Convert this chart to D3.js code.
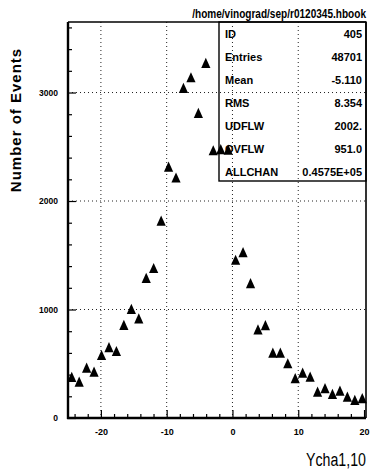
<!DOCTYPE html>
<html><head><meta charset="utf-8">
<script src="https://cdn.jsdelivr.net/npm/d3@7"></script>
<style>body{margin:0;background:#fff} svg{display:block}</style>
</head><body>
<svg id="c" width="377" height="470"></svg>
<script>
// Bin centres (40 bins) and event counts
const binCenters = [-24.43,-23.30,-22.17,-21.04,-19.90,-18.77,-17.64,-16.51,-15.37,-14.24,
  -13.11,-11.98,-10.84,-9.71,-8.58,-7.45,-6.31,-5.18,-4.05,-2.92,
  -1.78,-0.65,0.48,1.61,2.75,3.88,5.01,6.14,7.28,8.41,
  9.54,10.67,11.81,12.94,14.07,15.20,16.34,17.47,18.60,19.73];
const counts = [376,333,461,425,578,651,615,856,1003,915,
  1288,1380,1817,2315,2214,3040,3138,2810,3270,2465,
  2475,2470,1456,1526,1241,814,853,599,599,502,
  364,416,379,241,272,220,250,195,165,181];
const xTickValues = [-20,-10,0,10,20];
const xTickLabels = ["-20","-10","0","10","20"];
const yTickValues = [0,1000,2000,3000];
const yTickLabels = ["0","1000","2000","3000"];
const statLabels = ["ID","Entries","Mean","RMS","UDFLW","OVFLW","ALLCHAN"];
const statValues = ["405","48701","-5.110","8.354","2002.","951.0","0.4575E+05"];
const fileTitle = "/home/vinograd/sep/r0120345.hbook";
const xTitle = "Ycha1,10";
const yTitle = "Number of Events";

const svg = d3.select("#c");
const L = 68, R = 366, T = 22, B = 418;
const x = d3.scaleLinear().domain([-25, 20.3]).range([L, R]);
const y = d3.scaleLinear().domain([0, 3650]).range([B, T]);
const narrow = "'Liberation Sans Narrow','Arial Narrow','Liberation Sans',sans-serif";

// grid
const grid = svg.append("g").attr("stroke", "#222").attr("stroke-width", 1).attr("stroke-dasharray", "1,3");
grid.selectAll("line.v").data(xTickValues.filter(v => v < 20)).join("line")
  .attr("x1", d => x(d)).attr("x2", d => x(d)).attr("y1", T).attr("y2", B);
grid.selectAll("line.h").data(yTickValues.filter(v => v > 0)).join("line")
  .attr("x1", L).attr("x2", R).attr("y1", d => y(d)).attr("y2", d => y(d));

// axes
const xMinor = d3.range(-24, 20.01, 2).filter(v => v % 10 !== 0);
const yMinor = d3.range(200, 3650, 200).filter(v => v % 1000 !== 0);

const gx = svg.append("g").attr("transform", `translate(0,${B})`)
  .call(d3.axisBottom(x).tickValues(xTickValues).tickFormat((d, i) => xTickLabels[i])
    .tickSizeInner(-8).tickSizeOuter(0).tickPadding(11));
gx.select(".domain").remove();
gx.selectAll("text").attr("font-family", narrow).attr("font-weight", "bold").attr("font-size", 9);
const gxm = svg.append("g").attr("transform", `translate(0,${B})`)
  .call(d3.axisBottom(x).tickValues(xMinor).tickFormat("").tickSizeInner(-4).tickSizeOuter(0));
gxm.select(".domain").remove();

const gy = svg.append("g").attr("transform", `translate(${L},0)`)
  .call(d3.axisLeft(y).tickValues(yTickValues).tickFormat((d, i) => yTickLabels[i])
    .tickSizeInner(-8).tickSizeOuter(0).tickPadding(10));
gy.select(".domain").remove();
gy.selectAll("text").attr("font-family", narrow).attr("font-weight", "bold").attr("font-size", 8.5);
const gym = svg.append("g").attr("transform", `translate(${L},0)`)
  .call(d3.axisLeft(y).tickValues(yMinor).tickFormat("").tickSizeInner(-4).tickSizeOuter(0));
gym.select(".domain").remove();
svg.selectAll(".tick line").attr("stroke", "#000").attr("stroke-width", 1.2);

// frame
svg.append("line").attr("x1", L).attr("x2", R).attr("y1", T).attr("y2", T).attr("stroke", "#000").attr("stroke-width", 1.6);
svg.append("line").attr("x1", R).attr("x2", R).attr("y1", T).attr("y2", B).attr("stroke", "#000").attr("stroke-width", 1.6);
svg.append("line").attr("x1", L).attr("x2", L).attr("y1", T).attr("y2", B + 1).attr("stroke", "#000").attr("stroke-width", 2.4);
svg.append("line").attr("x1", L - 1).attr("x2", R).attr("y1", B).attr("y2", B).attr("stroke", "#000").attr("stroke-width", 2.4);

// stats box
const bx = 219, bw = R - 219, by = T, bh = 159;
svg.append("rect").attr("x", bx).attr("y", by).attr("width", bw).attr("height", bh)
  .attr("fill", "none").attr("stroke", "#000").attr("stroke-width", 1.4);
const rowY = i => 33 + i * 23;
const st = svg.append("g").attr("font-family", narrow).attr("font-weight", "bold").attr("font-size", 11).attr("fill", "#000");
st.selectAll("text.l").data(statLabels).join("text")
  .attr("x", bx + 6).attr("y", (d, i) => rowY(i) + 4.5).text(d => d);
st.selectAll("text.v").data(statValues).join("text")
  .attr("x", R - 4).attr("y", (d, i) => rowY(i) + 4.5).attr("text-anchor", "end").text(d => d);

// condensed text helper: scale horizontally to a target width
function condensed(tx, ty, str, size, weight, target) {
  const g = svg.append("g").attr("transform", `translate(${tx},${ty})`);
  const t = g.append("text").attr("text-anchor", "end")
    .attr("font-family", narrow).attr("font-size", size).attr("font-weight", weight).text(str);
  const w = t.node().getComputedTextLength();
  const k = Math.min(1, target / w);
  t.attr("transform", `scale(${k},1)`);
  return t;
}
condensed(R, 18, fileTitle, 12, "bold", 174);
condensed(R, 466, xTitle, 19, "normal", 60);

svg.append("text").attr("transform", `translate(21,120) rotate(-90)`).attr("text-anchor", "middle")
  .attr("font-family", "'Liberation Sans',Arial,sans-serif").attr("font-weight", "bold").attr("font-size", 15)
  .attr("letter-spacing", 1).text(yTitle);

// markers
const tri = "M0,-5.4L4.6,4.8L-4.6,4.8Z";
svg.append("g").selectAll("path").data(binCenters).join("path")
  .attr("d", tri).attr("fill", "#000")
  .attr("transform", (d, i) => `translate(${x(d)},${y(counts[i])})`);
</script>
</body></html>
